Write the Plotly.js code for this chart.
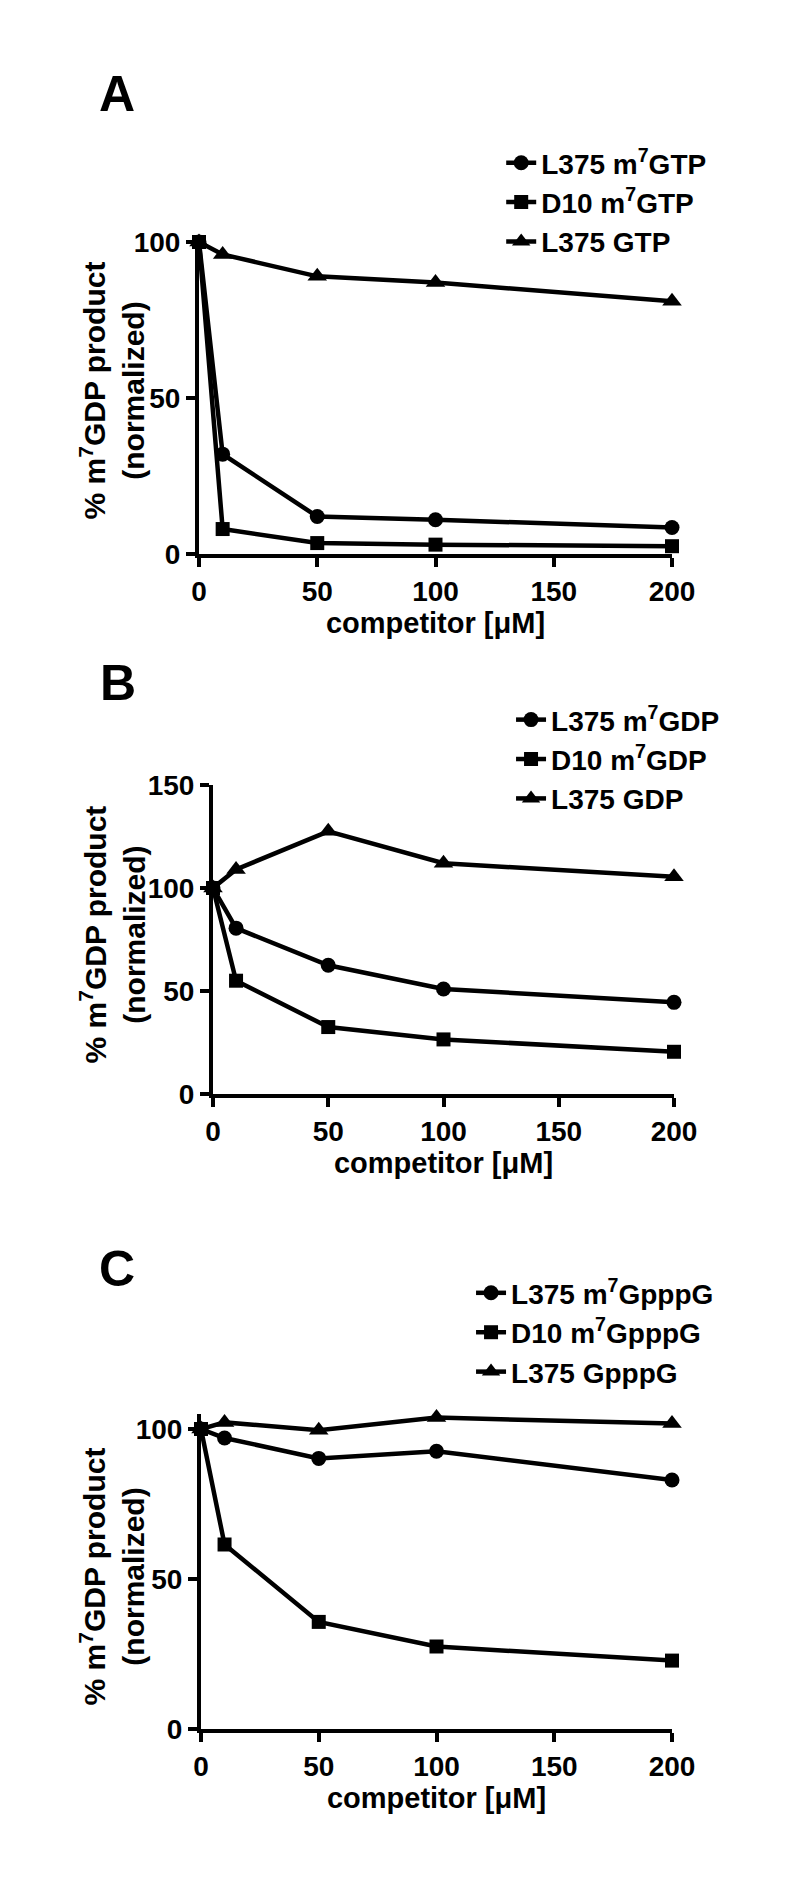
<!DOCTYPE html>
<html>
<head>
<meta charset="utf-8">
<script src="https://cdn.plot.ly/plotly-3.0.1.min.js"></script>
<style>html,body{margin:0;padding:0;background:#fff;}#chart{width:800px;height:1893px;}</style>
</head>
<body>
<div id="chart"></div>
<script>
// competitor concentration (µM)
const conc = [0, 10, 50, 100, 200];
const xTicks = [0, 50, 100, 150, 200];

// Panel A
const aL375m7GTP = [100, 32, 12, 11, 8.5];
const aD10m7GTP = [100, 8, 3.5, 3, 2.5];
const aL375GTP = [100, 96, 89, 87, 81];
const aNames = ['L375 m<sup>7</sup>GTP', 'D10 m<sup>7</sup>GTP', 'L375 GTP'];

// Panel B
const bL375m7GDP = [100, 80.5, 62.5, 51, 44.5];
const bD10m7GDP = [100, 55, 32.5, 26.5, 20.5];
const bL375GDP = [100, 109, 127.5, 112, 105.5];
const bNames = ['L375 m<sup>7</sup>GDP', 'D10 m<sup>7</sup>GDP', 'L375 GDP'];

// Panel C
const cL375m7GpppG = [100, 97, 90.2, 92.6, 83];
const cD10m7GpppG = [100, 61.5, 35.7, 27.5, 22.8];
const cL375GpppG = [100, 102.2, 99.6, 103.8, 101.8];
const cNames = ['L375 m<sup>7</sup>GpppG', 'D10 m<sup>7</sup>GpppG', 'L375 GpppG'];

const panelLetters = ['A', 'B', 'C'];
const yTitle = '% m<sup>7</sup>GDP product<br>(normalized)';
const xTitle = 'competitor [μM]';

const FAM = '"Liberation Sans", Arial, Helvetica, sans-serif';
const fnt = (s) => ({family: FAM, size: s, color: '#000', weight: 'bold'});

function series(x, y, name, symbol, size, xa, ya, leg, rank) {
  return {
    x: x, y: y, name: name, type: 'scatter', mode: 'lines+markers',
    xaxis: xa, yaxis: ya, legend: leg, legendrank: rank,
    line: {color: '#000', width: 4.5},
    marker: {symbol: symbol, size: size, color: '#000'},
    cliponaxis: false, hoverinfo: 'x+y+name'
  };
}

const traces = [
  series(conc, aL375GTP, aNames[2], 'triangle-up', 17, 'x', 'y', 'legend', 3),
  series(conc, aL375m7GTP, aNames[0], 'circle', 15, 'x', 'y', 'legend', 1),
  series(conc, aD10m7GTP, aNames[1], 'square', 14, 'x', 'y', 'legend', 2),

  series(conc, bL375GDP, bNames[2], 'triangle-up', 17, 'x2', 'y2', 'legend2', 3),
  series(conc, bL375m7GDP, bNames[0], 'circle', 15, 'x2', 'y2', 'legend2', 1),
  series(conc, bD10m7GDP, bNames[1], 'square', 14, 'x2', 'y2', 'legend2', 2),

  series(conc, cL375GpppG, cNames[2], 'triangle-up', 17, 'x3', 'y3', 'legend3', 3),
  series(conc, cL375m7GpppG, cNames[0], 'circle', 15, 'x3', 'y3', 'legend3', 1),
  series(conc, cD10m7GpppG, cNames[1], 'square', 14, 'x3', 'y3', 'legend3', 2)
];

function xAxis(domain, anchor) {
  return {
    domain: domain, anchor: anchor, range: [0, 200], tickvals: xTicks,
    showline: true, linewidth: 4, linecolor: '#000', mirror: false,
    ticks: 'outside', ticklen: 9, tickwidth: 4, tickcolor: '#000',
    showgrid: false, zeroline: false, automargin: false,
    tickfont: fnt(28),
    title: {text: xTitle, font: fnt(29), standoff: 6}
  };
}
function yAxis(domain, anchor, range, ticks) {
  return {
    domain: domain, anchor: anchor, range: range, tickvals: ticks,
    showline: true, linewidth: 4, linecolor: '#000',
    ticks: 'outside', ticklen: 9, tickwidth: 4, tickcolor: '#000',
    showgrid: false, zeroline: false, automargin: false,
    tickfont: fnt(28)
  };
}
function legendAt(x, y) {
  return {x: x, y: y, xanchor: 'left', yanchor: 'top', font: fnt(28),
          bgcolor: 'rgba(0,0,0,0)', borderwidth: 0, traceorder: 'normal'};
}
function letter(t, x, y) {
  return {text: t, x: x, y: y, xref: 'paper', yref: 'paper', showarrow: false,
          font: fnt(50), xanchor: 'center', yanchor: 'middle'};
}
function yTitleAnn(y) {
  return {text: yTitle, x: 0.1406, y: y, xref: 'paper', yref: 'paper', showarrow: false,
          textangle: -90, font: fnt(30), xanchor: 'center', yanchor: 'middle', align: 'center'};
}

const layout = {
  width: 800, height: 1893,
  margin: {l: 0, r: 0, t: 0, b: 0},
  paper_bgcolor: '#fff', plot_bgcolor: '#fff',
  font: fnt(28),
  showlegend: true,
  xaxis: xAxis([0.24875, 0.84], 'y'),
  yaxis: yAxis([0.70734, 0.87216], 'x', [0, 100], [0, 50, 100]),
  xaxis2: xAxis([0.26625, 0.8425], 'y2'),
  yaxis2: yAxis([0.42208, 0.58531], 'x2', [0, 150], [0, 50, 100, 150]),
  xaxis3: xAxis([0.25125, 0.84], 'y3'),
  yaxis3: yAxis([0.08664, 0.25304], 'x3', [0, 105], [0, 50, 100]),
  legend: legendAt(0.6265, 0.9271),
  legend2: legendAt(0.6388, 0.6329),
  legend3: legendAt(0.5888, 0.3301),
  annotations: [
    letter(panelLetters[0], 0.146, 0.9503),
    letter(panelLetters[1], 0.1475, 0.6392),
    letter(panelLetters[2], 0.146, 0.3296),
    yTitleAnn(0.7940),
    yTitleAnn(0.5066),
    yTitleAnn(0.1675)
  ]
};

Plotly.newPlot('chart', traces, layout, {displayModeBar: false, staticPlot: true});
</script>
</body>
</html>
